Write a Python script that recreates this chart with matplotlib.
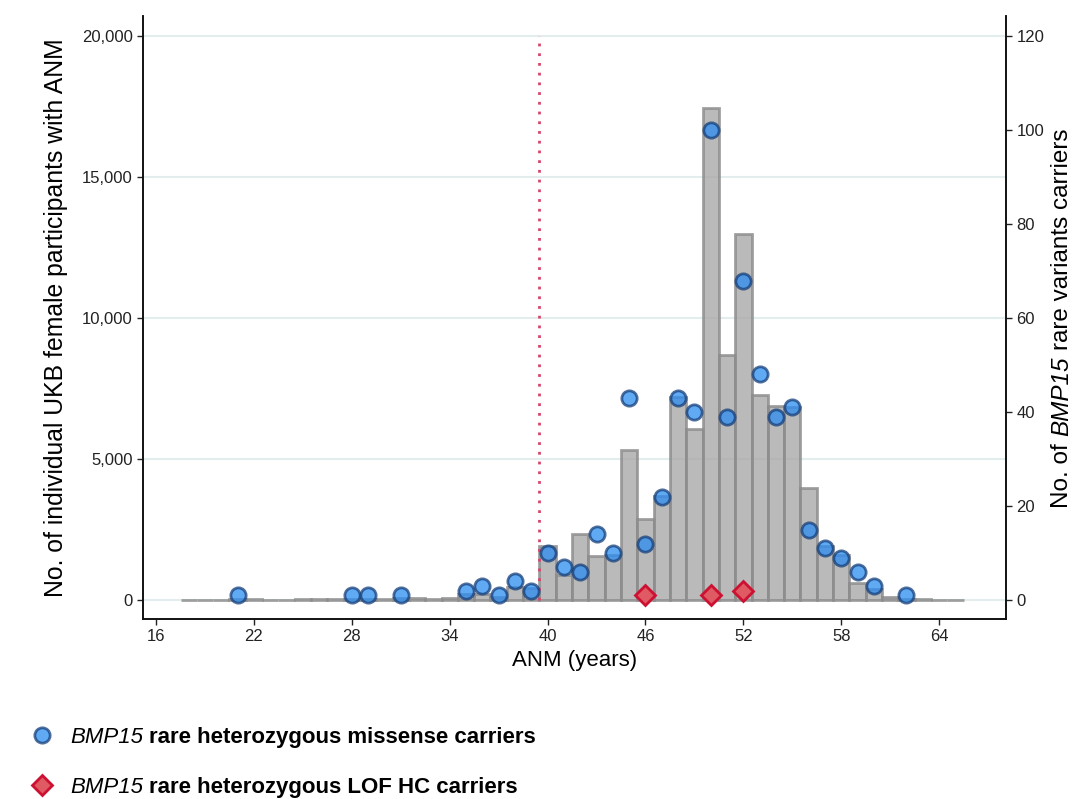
import numpy as np
import matplotlib
matplotlib.use("Agg")
import matplotlib.pyplot as plt
from matplotlib.lines import Line2D
from matplotlib.ticker import FuncFormatter

plt.rcParams['font.family'] = ['Liberation Sans', 'DejaVu Sans']

# Histograma de ANM (participantes UKB)
ages = list(range(18, 66))
counts = [10, 10, 15, 20, 20, 15, 15, 20, 25, 30, 40, 45, 50, 60, 55, 20,
          60, 200, 230, 120, 450, 420, 1900, 900, 2330, 1570, 1600, 5330,
          2880, 3700, 7200, 6080, 17430, 8690, 12980, 7270, 6880, 6850,
          3970, 1900, 1600, 600, 400, 100, 40, 20, 15, 10]

# Portadores BMP15 missense
mis_age = [21, 28, 29, 31, 35, 36, 37, 38, 39, 40, 41, 42, 43, 44, 45, 46,
           47, 48, 49, 50, 51, 52, 53, 54, 55, 56, 57, 58, 59, 60, 62]
mis_n = [1, 1, 1, 1, 2, 3, 1, 4, 2, 10, 7, 6, 14, 10, 43, 12,
         22, 43, 40, 100, 39, 68, 48, 39, 41, 15, 11, 9, 6, 3, 1]

# Portadores BMP15 LOF HC
lof_age = [46, 50, 52]
lof_n = [1, 1, 2]

cutoff = 39.5

W, H = 1087, 799
fig = plt.figure(figsize=(W/100, H/100), dpi=100)
ax = fig.add_axes([143/W, 1 - 619/H, (1006-143)/W, (619-16)/H])

ax.bar(ages, counts, width=1, color='#a9a9a9', alpha=0.8,
       edgecolor='#8a8a8a', linewidth=2, zorder=2)
ax.vlines(cutoff, 0, 20000, colors='#d9456a', linestyles=(0, (1, 2.5)),
          linewidth=2, zorder=3)

ax.set_xlim(15.2, 68.1)
ax.set_ylim(-674, 20709)
ax.set_xticks(range(16, 65, 6))
ax.set_yticks(range(0, 20001, 5000))
ax.yaxis.set_major_formatter(FuncFormatter(lambda v, p: f'{int(v):,}'))
ax.grid(axis='y', color='#e4eded', linewidth=1.5, zorder=0)
ax.set_axisbelow(True)

ax.set_xlabel('ANM (years)', fontsize=16, labelpad=4)
ax.set_ylabel('No. of individual UKB female participants with ANM',
              fontsize=17.8, labelpad=10)

ax2 = ax.twinx()
ax2.set_ylim(-4.04, 124.3)
ax2.set_yticks(range(0, 121, 20))
ax2.plot(mis_age, mis_n, 'o', markersize=11, color='#2b8cf0', alpha=0.75,
         markeredgecolor='#163f7a', markeredgewidth=2, linestyle='none')
ax2.plot(lof_age, lof_n, 'D', markersize=10.5, color='#e05a63',
         markeredgecolor='#cc1133', markeredgewidth=2, linestyle='none')

for a in (ax, ax2):
    a.spines['top'].set_visible(False)
    for s in ('left', 'right', 'bottom'):
        a.spines[s].set_linewidth(1.2)
        a.spines[s].set_color('#111111')
    a.tick_params(labelsize=12, length=4, width=1, colors='#222222')

# Etiqueta derecha con BMP15 en cursiva
fs_r = 17.5
gap = 0.278 * fs_r
xr = 1062 / W
t1 = fig.text(xr, 1 - 508/H, 'No. of', rotation=90, fontsize=fs_r,
              ha='center', va='bottom')
t2 = ax.annotate('BMP15', xy=(xr, 1), xycoords=('figure fraction', t1),
                 xytext=(0, gap), textcoords='offset points', rotation=90,
                 fontsize=fs_r, style='italic', ha='center', va='bottom',
                 annotation_clip=False)
ax.annotate('rare variants carriers', xy=(xr, 1),
            xycoords=('figure fraction', t2), xytext=(0, gap),
            textcoords='offset points', rotation=90, fontsize=fs_r,
            ha='center', va='bottom', annotation_clip=False)

# Leyenda manual
fs_l = 16
rows = [
    (735, dict(marker='o', markersize=11, color='#2b8cf0', alpha=0.75,
               markeredgecolor='#163f7a', markeredgewidth=2),
     'rare heterozygous missense carriers'),
    (785, dict(marker='D', markersize=10.5, color='#e05a63',
               markeredgecolor='#cc1133', markeredgewidth=2),
     'rare heterozygous LOF HC carriers'),
]
for ypix, mk, txt in rows:
    fig.add_artist(Line2D([42/W], [1 - ypix/H], transform=fig.transFigure,
                          linestyle='none', **mk))
    yb = 1 - (ypix + 8)/H
    ti = fig.text(70/W, yb, 'BMP15', fontsize=fs_l, style='italic',
                  va='baseline', ha='left')
    ax.annotate(txt, xy=(1, yb), xycoords=(ti, 'figure fraction'),
                xytext=(0.278*fs_l, 0), textcoords='offset points',
                fontsize=fs_l, fontweight='bold', ha='left', va='baseline',
                annotation_clip=False)

fig.savefig('out.png', dpi=100)
